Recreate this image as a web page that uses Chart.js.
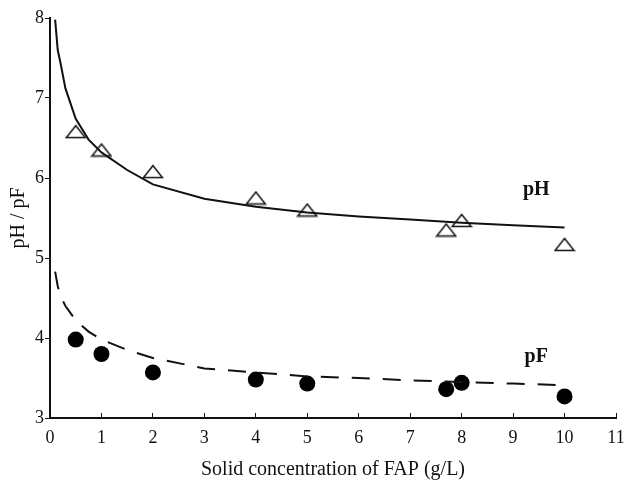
<!DOCTYPE html>
<html>
<head>
<meta charset="utf-8">
<script src="https://cdn.jsdelivr.net/npm/chart.js@4"></script>
<style>
  body { margin: 0; background: #fff; }
  #wrap { width: 627px; height: 492px; }
</style>
</head>
<body>
<div id="wrap"><canvas id="chart" width="627" height="492"></canvas></div>
<script>
// measured points
const concX = [0.5, 1, 2, 4, 5, 7.7, 8, 10];
const phValues = [6.58, 6.35, 6.08, 5.75, 5.60, 5.35, 5.47, 5.17];
const pfValues = [3.98, 3.80, 3.57, 3.48, 3.43, 3.36, 3.44, 3.27];

// fitted curves
const fitX = [0.1, 0.15, 0.2, 0.3, 0.5, 0.75, 1, 1.5, 2, 3, 4, 5, 6, 7, 8, 9, 10];
const phFit = [7.98, 7.6, 7.45, 7.12, 6.74, 6.48, 6.32, 6.1, 5.92, 5.74, 5.64, 5.57, 5.52, 5.48, 5.44, 5.41, 5.38];
const pfFit = [4.83, 4.65, 4.53, 4.4, 4.22, 4.08, 3.98, 3.85, 3.75, 3.62, 3.57, 3.52, 3.50, 3.47, 3.45, 3.43, 3.41];

// curve names written next to the lines
const curveNames = ['pH', 'pF'];
const nameX = [9.45, 9.45];
const nameY = [5.85, 3.76];

const FONT = '"Liberation Serif", "Times New Roman", serif';

function toXY(xs, ys) {
    return xs.map((x, i) => ({ x: x, y: ys[i] }));
}

// open flattened triangle used as marker
function makeTriangle() {
    const c = document.createElement('canvas');
    c.width = 22;
    c.height = 15;
    const g = c.getContext('2d');
    g.strokeStyle = '#111';
    g.lineWidth = 1.5;
    g.beginPath();
    g.moveTo(11, 1.5);
    g.lineTo(20.5, 13.5);
    g.lineTo(1.5, 13.5);
    g.closePath();
    g.stroke();
    return c;
}

const curveLabels = {
    id: 'curveLabels',
    afterDatasetsDraw(chart) {
        const ctx = chart.ctx;
        const xs = chart.scales.x, ys = chart.scales.y;
        ctx.save();
        ctx.font = 'bold 20px ' + FONT;
        ctx.fillStyle = '#111';
        ctx.textAlign = 'center';
        ctx.textBaseline = 'middle';
        curveNames.forEach((t, i) => {
            ctx.fillText(t, xs.getPixelForValue(nameX[i]), ys.getPixelForValue(nameY[i]));
        });
        ctx.restore();
    }
};

new Chart(document.getElementById('chart'), {
    type: 'scatter',
    data: {
        datasets: [
            {
                label: 'pH fit',
                type: 'line',
                data: toXY(fitX, phFit),
                borderColor: '#111',
                borderWidth: 2,
                pointRadius: 0,
                tension: 0,
                fill: false
            },
            {
                label: 'pF fit',
                type: 'line',
                data: toXY(fitX, pfFit),
                borderColor: '#111',
                borderWidth: 2,
                borderDash: [18, 13],
                pointRadius: 0,
                tension: 0,
                fill: false
            },
            {
                label: 'pH',
                data: toXY(concX, phValues),
                pointStyle: makeTriangle(),
                pointRadius: 10
            },
            {
                label: 'pF',
                data: toXY(concX, pfValues),
                pointStyle: 'circle',
                pointRadius: 8,
                backgroundColor: '#000',
                borderColor: '#000',
                borderWidth: 0
            }
        ]
    },
    options: {
        responsive: false,
        animation: false,
        layout: { padding: { top: 18, right: 10, left: 0, bottom: 0 } },
        plugins: {
            legend: { display: false },
            tooltip: { enabled: false }
        },
        scales: {
            x: {
                type: 'linear',
                min: 0,
                max: 11,
                afterFit: s => {
                    s.height = 74;
                    s.paddingLeft = 0;
                    s.paddingRight = 0;
                },
                border: { color: '#111', width: 2 },
                grid: { drawOnChartArea: false, tickLength: -5, color: '#111', lineWidth: 1 },
                ticks: { stepSize: 1, color: '#111', padding: 14, font: { family: FONT, size: 18 } },
                title: {
                    display: true,
                    text: 'Solid concentration of FAP (g/L)',
                    color: '#111',
                    font: { family: FONT, size: 20 },
                    padding: { top: 4, bottom: 10 }
                }
            },
            y: {
                min: 3,
                max: 8,
                afterFit: s => { s.width = 50; },
                border: { color: '#111', width: 2 },
                grid: { drawOnChartArea: false, tickLength: 5, color: '#111', lineWidth: 1 },
                ticks: { stepSize: 1, color: '#111', padding: 1, font: { family: FONT, size: 18 } },
                title: {
                    display: true,
                    text: 'pH / pF',
                    color: '#111',
                    font: { family: FONT, size: 20 },
                    padding: { top: 7, bottom: 0 }
                }
            }
        }
    },
    plugins: [curveLabels]
});
</script>
</body>
</html>
